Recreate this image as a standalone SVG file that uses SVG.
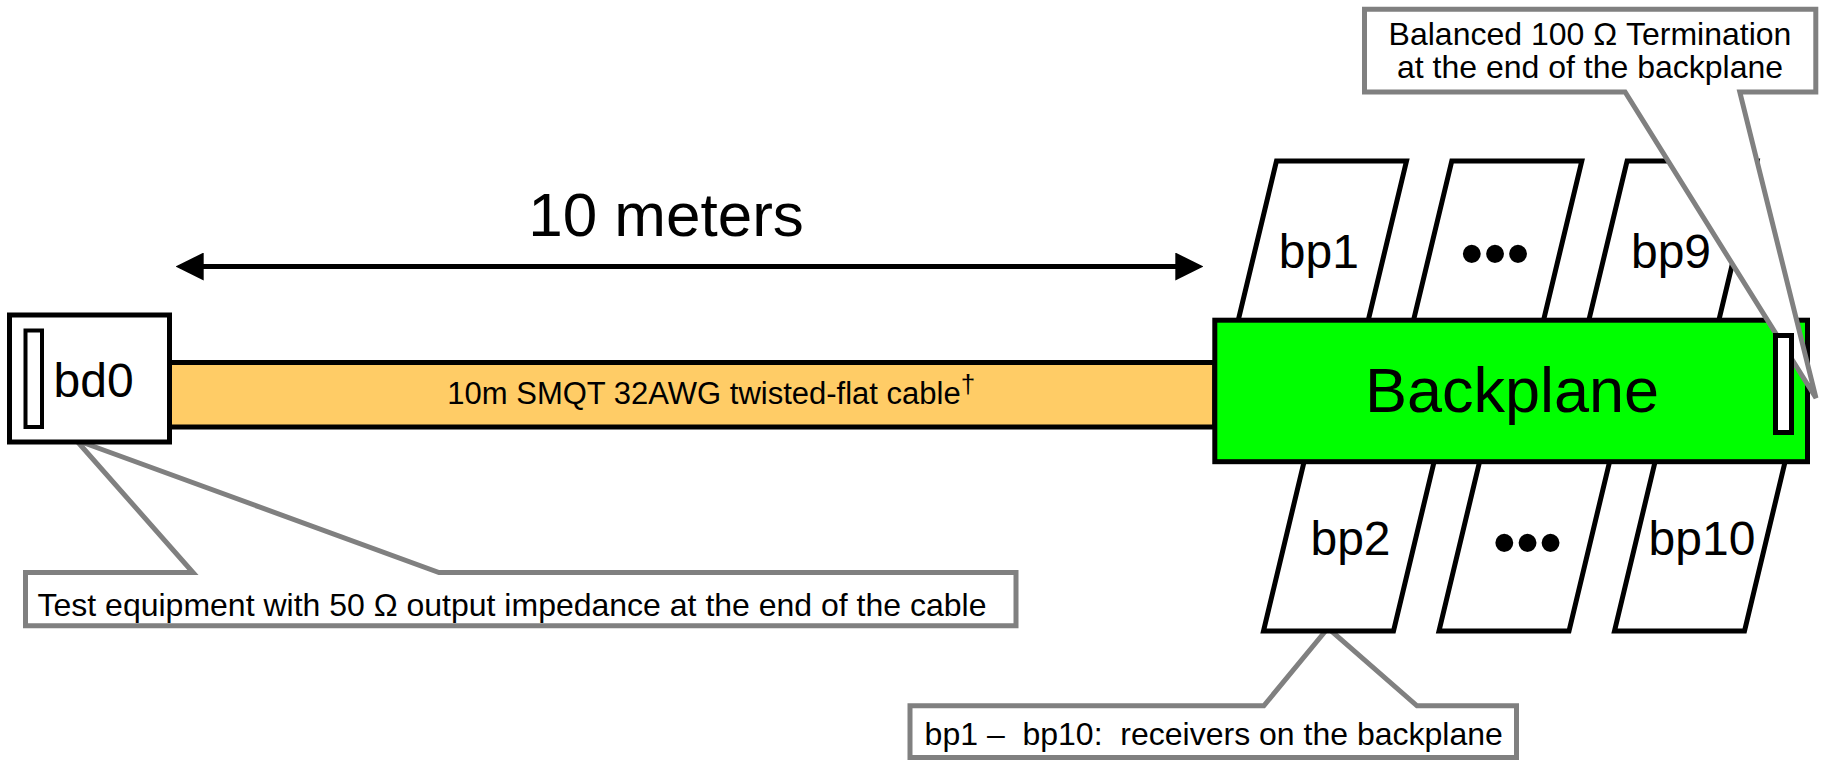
<svg xmlns="http://www.w3.org/2000/svg" width="1821" height="761" viewBox="0 0 1821 761">
<style>
text{font-family:"Liberation Sans",Arial,Helvetica,sans-serif;fill:#000}
.blk{stroke:#000;stroke-width:5;stroke-linejoin:miter}
.wht{fill:#fff}
.callout{fill:#fff;stroke:#808080;stroke-width:5}
.lbl{font-size:48px;text-anchor:middle}
.dots{font-size:66px;text-anchor:middle}
.ct{font-size:32px}
</style>
<defs>
<marker id="ah" viewBox="0 0 28 28" markerWidth="28" markerHeight="28" refX="23" refY="14" orient="auto-start-reverse" markerUnits="userSpaceOnUse">
<path d="M0,0 L28,14 L0,28 Z" fill="#000"/>
</marker>
</defs>

<g id="callout-test-equipment">
<path class="callout" d="M25.5,572.5 H193 L76,440 L439,572.5 H1016 V625.8 H25.5 Z"/>
<text class="ct" x="37.5" y="616">Test equipment with 50 Ω output impedance at the end of the cable</text>
</g>

<g id="callout-receivers">
<path class="callout" d="M910,705.8 H1263.8 L1328,628 L1417,705.8 H1516.5 V757.5 H910 Z"/>
<text class="ct" x="924.6" y="745" xml:space="preserve" style="white-space:pre">bp1 –  bp10:  receivers on the backplane</text>
</g>

<g id="dimension">
<line x1="180.7" y1="266.5" x2="1198.3" y2="266.5" stroke="#000" stroke-width="5" marker-start="url(#ah)" marker-end="url(#ah)"/>
<text x="666" y="236" font-size="62" text-anchor="middle">10 meters</text>
</g>

<g id="cable">
<rect class="blk" x="169.5" y="362.5" width="1045.3" height="64.5" fill="#FFCC66"/>
<text x="447.3" y="404.3" font-size="31">10m SMQT 32AWG twisted-flat cable<tspan font-size="26" dy="-11">†</tspan></text>
</g>

<g id="bd0">
<rect class="blk wht" x="9.5" y="315" width="160" height="127"/>
<rect class="wht" x="25.5" y="330.5" width="16.5" height="96.5" stroke="#000" stroke-width="4"/>
<text x="53.5" y="396.7" font-size="48">bd0</text>
</g>

<g id="bp1">
<path class="blk wht" d="M1276.5,161 H1406.5 L1365.9,330 H1235.9 Z"/>
<text class="lbl" x="1318.8" y="267.7">bp1</text>
</g>
<g id="bp-dots-top">
<path class="blk wht" d="M1451.8,161 H1581.8 L1541.2,330 H1411.2 Z"/>
<text class="dots" x="1495" y="276.4">•••</text>
</g>
<g id="bp9">
<path class="blk wht" d="M1627.1,161 H1757.1 L1716.5,330 H1586.5 Z"/>
<text class="lbl" x="1671" y="267.7">bp9</text>
</g>

<g id="bp2">
<path class="blk wht" d="M1305.7,455 H1435.7 L1393.5,631 H1263.5 Z"/>
<text class="lbl" x="1350.5" y="555">bp2</text>
</g>
<g id="bp-dots-bottom">
<path class="blk wht" d="M1481.2,455 H1611.2 L1569,631 H1439 Z"/>
<text class="dots" x="1527.5" y="564.8">•••</text>
</g>
<g id="bp10">
<path class="blk wht" d="M1656.7,455 H1786.7 L1744.5,631 H1614.5 Z"/>
<text class="lbl" x="1702" y="555">bp10</text>
</g>

<g id="backplane">
<rect class="blk" x="1214.8" y="320.2" width="592.7" height="141.5" fill="#00FF00"/>
<text x="1512" y="411.7" font-size="63" text-anchor="middle">Backplane</text>
</g>

<g id="callout-termination">
<path class="callout" d="M1364.5,9.3 H1815.8 V92 H1739.8 L1816,398 L1625.1,92 H1364.5 Z"/>
<text class="ct" x="1590" y="45" text-anchor="middle">Balanced 100 Ω Termination</text>
<text class="ct" x="1590" y="78.3" text-anchor="middle">at the end of the backplane</text>
</g>

<g id="termination">
<rect class="wht" x="1775.5" y="335.5" width="16" height="97" stroke="#000" stroke-width="5"/>
</g>
</svg>
